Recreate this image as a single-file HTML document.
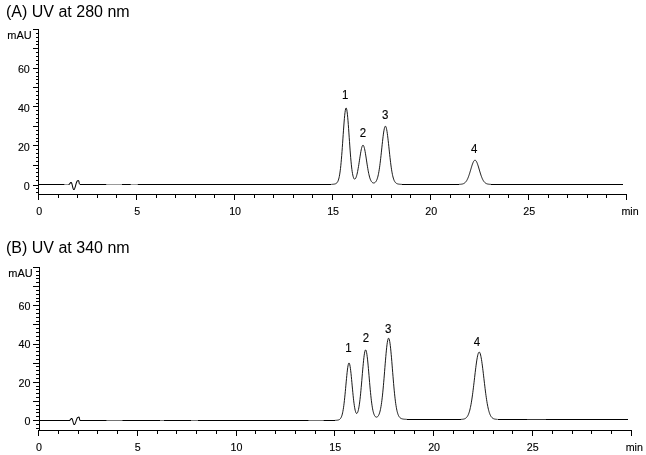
<!DOCTYPE html>
<html><head><meta charset="utf-8"><title>Chromatograms</title>
<style>
html,body{margin:0;padding:0;background:#fff;}
svg{display:block}
text{font-family:"Liberation Sans",Arial,sans-serif;fill:#000}
.ax{font-size:10.7px}
.mau{font-size:11px}
.ax,.mau,.pk{stroke:#000;stroke-width:0.12px}
.ti{font-size:16px}
.pk{font-size:11.5px}
.tr{fill:none;stroke:#000;stroke-width:0.9;stroke-linejoin:round}
.w{stroke-width:1.02}
</style></head><body>
<svg width="646" height="455" viewBox="0 0 646 455">
<rect width="646" height="455" fill="#fff"/>
<g shape-rendering="crispEdges" fill="#000">
<rect x="38" y="29" width="1" height="166"/>
<rect x="38" y="194" width="589" height="1"/>
<rect x="36" y="192" width="2" height="1"/>
<rect x="36" y="188" width="2" height="1"/>
<rect x="33" y="185" width="5" height="1"/>
<rect x="36" y="180" width="2" height="1"/>
<rect x="36" y="176" width="2" height="1"/>
<rect x="36" y="172" width="2" height="1"/>
<rect x="36" y="168" width="2" height="1"/>
<rect x="33" y="165" width="5" height="1"/>
<rect x="36" y="161" width="2" height="1"/>
<rect x="36" y="157" width="2" height="1"/>
<rect x="36" y="153" width="2" height="1"/>
<rect x="36" y="149" width="2" height="1"/>
<rect x="33" y="145" width="5" height="1"/>
<rect x="36" y="141" width="2" height="1"/>
<rect x="36" y="138" width="2" height="1"/>
<rect x="36" y="134" width="2" height="1"/>
<rect x="36" y="130" width="2" height="1"/>
<rect x="33" y="126" width="5" height="1"/>
<rect x="36" y="122" width="2" height="1"/>
<rect x="36" y="118" width="2" height="1"/>
<rect x="36" y="114" width="2" height="1"/>
<rect x="36" y="110" width="2" height="1"/>
<rect x="33" y="106" width="5" height="1"/>
<rect x="36" y="103" width="2" height="1"/>
<rect x="36" y="99" width="2" height="1"/>
<rect x="36" y="95" width="2" height="1"/>
<rect x="36" y="91" width="2" height="1"/>
<rect x="33" y="87" width="5" height="1"/>
<rect x="36" y="83" width="2" height="1"/>
<rect x="36" y="79" width="2" height="1"/>
<rect x="36" y="76" width="2" height="1"/>
<rect x="36" y="72" width="2" height="1"/>
<rect x="33" y="68" width="5" height="1"/>
<rect x="36" y="64" width="2" height="1"/>
<rect x="36" y="60" width="2" height="1"/>
<rect x="36" y="56" width="2" height="1"/>
<rect x="36" y="52" width="2" height="1"/>
<rect x="33" y="48" width="5" height="1"/>
<rect x="36" y="44" width="2" height="1"/>
<rect x="36" y="41" width="2" height="1"/>
<rect x="36" y="37" width="2" height="1"/>
<rect x="36" y="33" width="2" height="1"/>
<rect x="33" y="29" width="5" height="1"/>
<rect x="38" y="195" width="1" height="5"/>
<rect x="58" y="195" width="1" height="3"/>
<rect x="77" y="195" width="1" height="3"/>
<rect x="97" y="195" width="1" height="3"/>
<rect x="116" y="195" width="1" height="3"/>
<rect x="136" y="195" width="1" height="5"/>
<rect x="156" y="195" width="1" height="3"/>
<rect x="175" y="195" width="1" height="3"/>
<rect x="195" y="195" width="1" height="3"/>
<rect x="214" y="195" width="1" height="3"/>
<rect x="234" y="195" width="1" height="5"/>
<rect x="254" y="195" width="1" height="3"/>
<rect x="273" y="195" width="1" height="3"/>
<rect x="293" y="195" width="1" height="3"/>
<rect x="312" y="195" width="1" height="3"/>
<rect x="332" y="195" width="1" height="5"/>
<rect x="352" y="195" width="1" height="3"/>
<rect x="371" y="195" width="1" height="3"/>
<rect x="391" y="195" width="1" height="3"/>
<rect x="410" y="195" width="1" height="3"/>
<rect x="430" y="195" width="1" height="5"/>
<rect x="450" y="195" width="1" height="3"/>
<rect x="469" y="195" width="1" height="3"/>
<rect x="489" y="195" width="1" height="3"/>
<rect x="508" y="195" width="1" height="3"/>
<rect x="528" y="195" width="1" height="5"/>
<rect x="548" y="195" width="1" height="3"/>
<rect x="567" y="195" width="1" height="3"/>
<rect x="587" y="195" width="1" height="3"/>
<rect x="606" y="195" width="1" height="3"/>
<rect x="626" y="195" width="1" height="5"/>
<rect x="38.4" y="184" width="30.6" height="1"/>
<rect x="79.5" y="184" width="251.7" height="1"/>
<rect x="402.0" y="184" width="57.0" height="1"/>
<rect x="491.1" y="184" width="131.7" height="1"/>
</g>
<polyline class="tr w" points="69.0,184.46 69.3,184.26 69.6,183.93 69.9,183.52 70.2,183.10 70.5,182.73 70.8,182.49 71.1,182.40 71.4,182.62 71.7,183.24 72.0,184.20 72.3,185.37 72.6,186.63 72.9,187.80 73.2,188.76 73.5,189.38 73.8,189.60 74.1,189.47 74.4,189.07 74.7,188.44 75.0,187.61 75.3,186.63 75.6,185.56 75.9,184.48 76.2,183.43 76.5,182.50 76.8,181.73 77.1,181.17 77.4,180.86 77.7,180.80 78.0,180.73 78.3,180.64 78.6,180.60 78.9,181.40 79.2,183.15 79.5,184.40"/>
<polyline class="tr" points="331.2,184.39 331.5,184.38 331.8,184.36 332.1,184.34 332.4,184.32 332.7,184.30 333.0,184.27 333.3,184.24 333.6,184.21 333.9,184.17 334.2,184.12 334.5,184.06 334.8,183.99 335.1,183.91 335.4,183.81 335.7,183.69 336.0,183.54 336.3,183.35 336.6,183.12 336.9,182.83 337.2,182.48 337.5,182.03 337.8,181.49 338.1,180.83 338.4,180.02 338.7,179.05 339.0,177.89 339.3,176.51 339.6,174.89 339.9,173.02 340.2,170.86 340.5,168.40 340.8,165.64 341.1,162.58 341.4,159.21 341.7,155.56 342.0,151.66 342.3,147.55 342.6,143.27 342.9,138.90 343.2,134.51 343.5,130.18 343.8,126.00 344.1,122.05 344.4,118.45 344.7,115.26 345.0,112.57 345.3,110.46 345.6,108.98 345.9,108.16 346.2,108.04 346.5,108.61 346.8,109.86 347.1,111.76 347.4,114.25 347.7,117.26 348.0,120.73 348.3,124.55 348.6,128.65 348.9,132.92 349.2,137.28 349.5,141.64 349.8,145.93 350.1,150.08 350.4,154.02 350.7,157.71 351.0,161.13 351.3,164.24 351.6,167.03 351.9,169.50 352.2,171.65 352.5,173.50 352.8,175.05 353.1,176.32 353.4,177.33 353.7,178.11 354.0,178.66 354.3,178.99 354.6,179.14 354.9,179.10 355.2,178.89 355.5,178.51 355.8,177.97 356.1,177.28 356.4,176.42 356.7,175.42 357.0,174.27 357.3,172.98 357.6,171.55 357.9,169.99 358.2,168.32 358.5,166.54 358.8,164.68 359.1,162.76 359.4,160.80 359.7,158.83 360.0,156.87 360.3,154.97 360.6,153.15 360.9,151.45 361.2,149.90 361.5,148.52 361.8,147.36 362.1,146.43 362.4,145.75 362.7,145.34 363.0,145.20 363.3,145.34 363.6,145.77 363.9,146.46 364.2,147.40 364.5,148.57 364.8,149.96 365.1,151.52 365.4,153.24 365.7,155.07 366.0,156.99 366.3,158.96 366.6,160.95 366.9,162.94 367.2,164.89 367.5,166.78 367.8,168.59 368.1,170.30 368.4,171.91 368.7,173.40 369.0,174.77 369.3,176.01 369.6,177.13 369.9,178.12 370.2,179.00 370.5,179.77 370.8,180.43 371.1,181.00 371.4,181.48 371.7,181.88 372.0,182.21 372.3,182.47 372.6,182.67 372.9,182.82 373.2,182.92 373.5,182.97 373.8,182.97 374.1,182.93 374.4,182.85 374.7,182.71 375.0,182.52 375.3,182.27 375.6,181.96 375.9,181.58 376.2,181.12 376.5,180.56 376.8,179.91 377.1,179.14 377.4,178.25 377.7,177.23 378.0,176.06 378.3,174.74 378.6,173.26 378.9,171.62 379.2,169.80 379.5,167.82 379.8,165.66 380.1,163.35 380.4,160.90 380.7,158.31 381.0,155.62 381.3,152.85 381.6,150.02 381.9,147.18 382.2,144.36 382.5,141.60 382.8,138.95 383.1,136.44 383.4,134.13 383.7,132.05 384.0,130.23 384.3,128.73 384.6,127.55 384.9,126.73 385.2,126.29 385.5,126.23 385.8,126.55 386.1,127.24 386.4,128.30 386.7,129.70 387.0,131.42 387.3,133.42 387.6,135.66 387.9,138.11 388.2,140.72 388.5,143.45 388.8,146.26 389.1,149.10 389.4,151.94 389.7,154.74 390.0,157.46 390.3,160.09 390.6,162.60 390.9,164.96 391.2,167.18 391.5,169.22 391.8,171.11 392.1,172.82 392.4,174.36 392.7,175.75 393.0,176.97 393.3,178.06 393.6,179.00 393.9,179.83 394.2,180.54 394.5,181.15 394.8,181.67 395.1,182.11 395.4,182.48 395.7,182.80 396.0,183.06 396.3,183.27 396.6,183.46 396.9,183.61 397.2,183.73 397.5,183.84 397.8,183.93 398.1,184.00 398.4,184.06 398.7,184.11 399.0,184.16 399.3,184.20 399.6,184.23 399.9,184.26 400.2,184.28 400.5,184.30 400.8,184.32 401.1,184.34 401.4,184.36 401.7,184.37 402.0,184.39"/>
<polyline class="tr" points="459.0,184.38 459.3,184.37 459.6,184.35 459.9,184.33 460.2,184.31 460.5,184.29 460.8,184.26 461.1,184.23 461.4,184.19 461.7,184.14 462.0,184.09 462.3,184.02 462.6,183.95 462.9,183.86 463.2,183.76 463.5,183.64 463.8,183.50 464.1,183.34 464.4,183.15 464.7,182.93 465.0,182.69 465.3,182.41 465.6,182.10 465.9,181.74 466.2,181.34 466.5,180.90 466.8,180.41 467.1,179.87 467.4,179.28 467.7,178.63 468.0,177.93 468.3,177.19 468.6,176.39 468.9,175.54 469.2,174.65 469.5,173.72 469.8,172.76 470.1,171.77 470.4,170.76 470.7,169.74 471.0,168.72 471.3,167.71 471.6,166.71 471.9,165.75 472.2,164.84 472.5,163.97 472.8,163.18 473.1,162.46 473.4,161.82 473.7,161.28 474.0,160.84 474.3,160.51 474.6,160.30 474.9,160.20 475.2,160.22 475.5,160.36 475.8,160.61 476.1,160.98 476.4,161.45 476.7,162.02 477.0,162.69 477.3,163.43 477.6,164.26 477.9,165.14 478.2,166.07 478.5,167.04 478.8,168.04 479.1,169.06 479.4,170.08 479.7,171.10 480.0,172.10 480.3,173.08 480.6,174.04 480.9,174.95 481.2,175.83 481.5,176.66 481.8,177.44 482.1,178.17 482.4,178.85 482.7,179.48 483.0,180.05 483.3,180.58 483.6,181.05 483.9,181.48 484.2,181.86 484.5,182.21 484.8,182.51 485.1,182.77 485.4,183.01 485.7,183.21 486.0,183.39 486.3,183.55 486.6,183.68 486.9,183.79 487.2,183.89 487.5,183.97 487.8,184.05 488.1,184.11 488.4,184.16 488.7,184.20 489.0,184.24 489.3,184.27 489.6,184.30 489.9,184.32 490.2,184.34 490.5,184.36 490.8,184.37 491.1,184.38"/>
<rect x="64.3" y="183.5" width="4.299999999999997" height="2" fill="#fff" opacity="0.6"/>
<rect x="106.2" y="183.5" width="15.799999999999997" height="2" fill="#fff" opacity="0.6"/>
<rect x="130.7" y="183.5" width="7.100000000000023" height="2" fill="#fff" opacity="0.6"/>
<text class="ax" transform="translate(29.8 190.3) scale(1 1.05)" text-anchor="end">0</text>
<text class="ax" transform="translate(29.8 150.6) scale(1 1.05)" text-anchor="end">20</text>
<text class="ax" transform="translate(29.8 111.8) scale(1 1.05)" text-anchor="end">40</text>
<text class="ax" transform="translate(29.8 73.0) scale(1 1.05)" text-anchor="end">60</text>
<text class="mau" transform="translate(31.7 39.0) scale(1 0.97)" text-anchor="end">mAU</text>
<text class="ax" transform="translate(39.1 214.6) scale(1 1.05)" text-anchor="middle">0</text>
<text class="ax" transform="translate(137.1 214.6) scale(1 1.05)" text-anchor="middle">5</text>
<text class="ax" transform="translate(235.1 214.6) scale(1 1.05)" text-anchor="middle">10</text>
<text class="ax" transform="translate(333.1 214.6) scale(1 1.05)" text-anchor="middle">15</text>
<text class="ax" transform="translate(431.2 214.6) scale(1 1.05)" text-anchor="middle">20</text>
<text class="ax" transform="translate(529.2 214.6) scale(1 1.05)" text-anchor="middle">25</text>
<text class="ax" transform="translate(630.0 214.6) scale(1 1.0)" text-anchor="middle">min</text>
<text class="ti" x="6" y="16.5">(A) UV at 280 nm</text>
<text class="pk" transform="translate(345.3 98.7) scale(1 1.07)" text-anchor="middle">1</text>
<text class="pk" transform="translate(363.0 137.0) scale(1 1.07)" text-anchor="middle">2</text>
<text class="pk" transform="translate(385.2 118.5) scale(1 1.07)" text-anchor="middle">3</text>
<text class="pk" transform="translate(474.2 153.3) scale(1 1.07)" text-anchor="middle">4</text>
<g shape-rendering="crispEdges" fill="#000">
<rect x="39" y="267" width="1" height="164"/>
<rect x="38" y="430" width="594" height="1"/>
<rect x="36" y="428" width="3" height="1"/>
<rect x="36" y="424" width="3" height="1"/>
<rect x="33" y="420" width="6" height="1"/>
<rect x="36" y="416" width="3" height="1"/>
<rect x="36" y="412" width="3" height="1"/>
<rect x="36" y="409" width="3" height="1"/>
<rect x="36" y="405" width="3" height="1"/>
<rect x="33" y="401" width="6" height="1"/>
<rect x="36" y="397" width="3" height="1"/>
<rect x="36" y="393" width="3" height="1"/>
<rect x="36" y="389" width="3" height="1"/>
<rect x="36" y="386" width="3" height="1"/>
<rect x="33" y="382" width="6" height="1"/>
<rect x="36" y="378" width="3" height="1"/>
<rect x="36" y="374" width="3" height="1"/>
<rect x="36" y="370" width="3" height="1"/>
<rect x="36" y="366" width="3" height="1"/>
<rect x="33" y="363" width="6" height="1"/>
<rect x="36" y="359" width="3" height="1"/>
<rect x="36" y="355" width="3" height="1"/>
<rect x="36" y="351" width="3" height="1"/>
<rect x="36" y="347" width="3" height="1"/>
<rect x="33" y="344" width="6" height="1"/>
<rect x="36" y="340" width="3" height="1"/>
<rect x="36" y="336" width="3" height="1"/>
<rect x="36" y="332" width="3" height="1"/>
<rect x="36" y="328" width="3" height="1"/>
<rect x="33" y="324" width="6" height="1"/>
<rect x="36" y="321" width="3" height="1"/>
<rect x="36" y="317" width="3" height="1"/>
<rect x="36" y="313" width="3" height="1"/>
<rect x="36" y="309" width="3" height="1"/>
<rect x="33" y="305" width="6" height="1"/>
<rect x="36" y="301" width="3" height="1"/>
<rect x="36" y="298" width="3" height="1"/>
<rect x="36" y="294" width="3" height="1"/>
<rect x="36" y="290" width="3" height="1"/>
<rect x="33" y="286" width="6" height="1"/>
<rect x="36" y="282" width="3" height="1"/>
<rect x="36" y="278" width="3" height="1"/>
<rect x="36" y="275" width="3" height="1"/>
<rect x="36" y="271" width="3" height="1"/>
<rect x="33" y="267" width="6" height="1"/>
<rect x="38" y="431" width="1" height="5"/>
<rect x="58" y="431" width="1" height="3"/>
<rect x="78" y="431" width="1" height="3"/>
<rect x="97" y="431" width="1" height="3"/>
<rect x="117" y="431" width="1" height="3"/>
<rect x="137" y="431" width="1" height="5"/>
<rect x="157" y="431" width="1" height="3"/>
<rect x="176" y="431" width="1" height="3"/>
<rect x="196" y="431" width="1" height="3"/>
<rect x="216" y="431" width="1" height="3"/>
<rect x="236" y="431" width="1" height="5"/>
<rect x="255" y="431" width="1" height="3"/>
<rect x="275" y="431" width="1" height="3"/>
<rect x="295" y="431" width="1" height="3"/>
<rect x="315" y="431" width="1" height="3"/>
<rect x="334" y="431" width="1" height="5"/>
<rect x="354" y="431" width="1" height="3"/>
<rect x="374" y="431" width="1" height="3"/>
<rect x="394" y="431" width="1" height="3"/>
<rect x="414" y="431" width="1" height="3"/>
<rect x="433" y="431" width="1" height="5"/>
<rect x="453" y="431" width="1" height="3"/>
<rect x="473" y="431" width="1" height="3"/>
<rect x="493" y="431" width="1" height="3"/>
<rect x="512" y="431" width="1" height="3"/>
<rect x="532" y="431" width="1" height="5"/>
<rect x="552" y="431" width="1" height="3"/>
<rect x="572" y="431" width="1" height="3"/>
<rect x="591" y="431" width="1" height="3"/>
<rect x="611" y="431" width="1" height="3"/>
<rect x="631" y="431" width="1" height="5"/>
<rect x="38.7" y="420" width="30.9" height="1"/>
<rect x="80.1" y="420" width="254.7" height="1"/>
<rect x="407.1" y="419" width="53.7" height="1"/>
<rect x="497.7" y="419" width="129.9" height="1"/>
</g>
<polyline class="tr w" points="69.6,420.46 69.9,420.26 70.2,419.93 70.5,419.52 70.8,419.10 71.1,418.73 71.4,418.49 71.7,418.40 72.0,418.62 72.3,419.24 72.6,420.18 72.9,421.31 73.2,422.46 73.5,423.48 73.8,424.22 74.1,424.58 74.4,424.55 74.7,424.30 75.0,423.84 75.3,423.21 75.6,422.45 75.9,421.59 76.2,420.70 76.5,419.83 76.8,419.03 77.1,418.35 77.4,417.83 77.7,417.51 78.0,417.40 78.3,417.34 78.6,417.20 78.9,417.11 79.2,417.42 79.5,418.80 79.8,420.18 80.1,420.50"/>
<polyline class="tr" points="334.8,420.39 335.1,420.38 335.4,420.36 335.7,420.34 336.0,420.32 336.3,420.30 336.6,420.27 336.9,420.24 337.2,420.20 337.5,420.15 337.8,420.10 338.1,420.03 338.4,419.95 338.7,419.86 339.0,419.73 339.3,419.58 339.6,419.40 339.9,419.16 340.2,418.88 340.5,418.52 340.8,418.08 341.1,417.55 341.4,416.91 341.7,416.13 342.0,415.21 342.3,414.11 342.6,412.84 342.9,411.36 343.2,409.66 343.5,407.74 343.8,405.59 344.1,403.21 344.4,400.61 344.7,397.81 345.0,394.82 345.3,391.68 345.6,388.44 345.9,385.15 346.2,381.86 346.5,378.63 346.8,375.54 347.1,372.65 347.4,370.04 347.7,367.76 348.0,365.88 348.3,364.44 348.6,363.48 348.9,363.03 349.2,363.11 349.5,363.70 349.8,364.80 350.1,366.36 350.4,368.36 350.7,370.73 351.0,373.41 351.3,376.34 351.6,379.45 351.9,382.66 352.2,385.92 352.5,389.15 352.8,392.30 353.1,395.32 353.4,398.18 353.7,400.82 354.0,403.24 354.3,405.41 354.6,407.32 354.9,408.96 355.2,410.35 355.5,411.47 355.8,412.34 356.1,412.96 356.4,413.33 356.7,413.47 357.0,413.37 357.3,413.05 357.6,412.49 357.9,411.70 358.2,410.67 358.5,409.41 358.8,407.91 359.1,406.16 359.4,404.17 359.7,401.93 360.0,399.46 360.3,396.76 360.6,393.84 360.9,390.73 361.2,387.45 361.5,384.04 361.8,380.53 362.1,376.98 362.4,373.42 362.7,369.91 363.0,366.52 363.3,363.30 363.6,360.31 363.9,357.60 364.2,355.23 364.5,353.26 364.8,351.71 365.1,350.62 365.4,350.02 365.7,349.92 366.0,350.32 366.3,351.21 366.6,352.57 366.9,354.37 367.2,356.58 367.5,359.14 367.8,362.01 368.1,365.13 368.4,368.45 368.7,371.89 369.0,375.42 369.3,378.96 369.6,382.47 369.9,385.91 370.2,389.22 370.5,392.39 370.8,395.38 371.1,398.17 371.4,400.75 371.7,403.11 372.0,405.25 372.3,407.16 372.6,408.86 372.9,410.36 373.2,411.66 373.5,412.79 373.8,413.75 374.1,414.56 374.4,415.23 374.7,415.79 375.0,416.23 375.3,416.58 375.6,416.83 375.9,417.01 376.2,417.11 376.5,417.14 376.8,417.10 377.1,417.00 377.4,416.83 377.7,416.58 378.0,416.25 378.3,415.84 378.6,415.34 378.9,414.73 379.2,414.00 379.5,413.15 379.8,412.16 380.1,411.02 380.4,409.71 380.7,408.22 381.0,406.55 381.3,404.68 381.6,402.60 381.9,400.30 382.2,397.80 382.5,395.08 382.8,392.16 383.1,389.05 383.4,385.75 383.7,382.30 384.0,378.72 384.3,375.05 384.6,371.31 384.9,367.55 385.2,363.82 385.5,360.16 385.8,356.63 386.1,353.27 386.4,350.14 386.7,347.28 387.0,344.75 387.3,342.59 387.6,340.82 387.9,339.49 388.2,338.62 388.5,338.22 388.8,338.30 389.1,338.86 389.4,339.89 389.7,341.37 390.0,343.27 390.3,345.57 390.6,348.21 390.9,351.17 391.2,354.38 391.5,357.81 391.8,361.39 392.1,365.09 392.4,368.84 392.7,372.60 393.0,376.32 393.3,379.98 393.6,383.52 393.9,386.93 394.2,390.18 394.5,393.24 394.8,396.10 395.1,398.76 395.4,401.21 395.7,403.44 396.0,405.47 396.3,407.29 396.6,408.92 396.9,410.37 397.2,411.64 397.5,412.76 397.8,413.73 398.1,414.58 398.4,415.30 398.7,415.92 399.0,416.45 399.3,416.91 399.6,417.29 399.9,417.61 400.2,417.88 400.5,418.11 400.8,418.30 401.1,418.46 401.4,418.59 401.7,418.71 402.0,418.80 402.3,418.88 402.6,418.95 402.9,419.01 403.2,419.07 403.5,419.11 403.8,419.15 404.1,419.19 404.4,419.22 404.7,419.24 405.0,419.27 405.3,419.29 405.6,419.31 405.9,419.33 406.2,419.35 406.5,419.36 406.8,419.37 407.1,419.39"/>
<polyline class="tr" points="460.8,419.39 461.1,419.37 461.4,419.36 461.7,419.34 462.0,419.31 462.3,419.28 462.6,419.25 462.9,419.21 463.2,419.16 463.5,419.11 463.8,419.04 464.1,418.96 464.4,418.86 464.7,418.75 465.0,418.62 465.3,418.46 465.6,418.28 465.9,418.06 466.2,417.81 466.5,417.52 466.8,417.19 467.1,416.81 467.4,416.37 467.7,415.86 468.0,415.29 468.3,414.65 468.6,413.92 468.9,413.11 469.2,412.20 469.5,411.20 469.8,410.09 470.1,408.86 470.4,407.53 470.7,406.07 471.0,404.50 471.3,402.80 471.6,400.98 471.9,399.05 472.2,397.00 472.5,394.84 472.8,392.58 473.1,390.23 473.4,387.80 473.7,385.30 474.0,382.75 474.3,380.17 474.6,377.58 474.9,375.00 475.2,372.44 475.5,369.94 475.8,367.51 476.1,365.19 476.4,362.99 476.7,360.93 477.0,359.05 477.3,357.35 477.6,355.87 477.9,354.61 478.2,353.60 478.5,352.84 478.8,352.34 479.1,352.12 479.4,352.16 479.7,352.48 480.0,353.07 480.3,353.91 480.6,355.01 480.9,356.34 481.2,357.90 481.5,359.65 481.8,361.60 482.1,363.70 482.4,365.95 482.7,368.31 483.0,370.77 483.3,373.29 483.6,375.86 483.9,378.45 484.2,381.04 484.5,383.61 484.8,386.14 485.1,388.62 485.4,391.02 485.7,393.34 486.0,395.57 486.3,397.69 486.6,399.71 486.9,401.60 487.2,403.38 487.5,405.03 487.8,406.57 488.1,407.98 488.4,409.28 488.7,410.47 489.0,411.54 489.3,412.52 489.6,413.39 489.9,414.18 490.2,414.87 490.5,415.49 490.8,416.04 491.1,416.52 491.4,416.94 491.7,417.31 492.0,417.63 492.3,417.90 492.6,418.14 492.9,418.34 493.2,418.51 493.5,418.66 493.8,418.79 494.1,418.90 494.4,418.99 494.7,419.06 495.0,419.13 495.3,419.18 495.6,419.22 495.9,419.26 496.2,419.29 496.5,419.32 496.8,419.34 497.1,419.36 497.4,419.38 497.7,419.39"/>
<rect x="106.4" y="419.5" width="16.099999999999994" height="2" fill="#fff" opacity="0.45"/>
<rect x="160" y="419.5" width="4" height="2" fill="#fff" opacity="0.45"/>
<rect x="191" y="419.5" width="7" height="2" fill="#fff" opacity="0.45"/>
<rect x="308.4" y="419.5" width="15.300000000000011" height="2" fill="#fff" opacity="0.45"/>
<rect x="527" y="419.5" width="19" height="2" fill="#fff" opacity="0.45"/>
<text class="ax" transform="translate(30.5 424.8) scale(1 1.05)" text-anchor="end">0</text>
<text class="ax" transform="translate(30.5 386.6) scale(1 1.05)" text-anchor="end">20</text>
<text class="ax" transform="translate(30.5 348.3) scale(1 1.05)" text-anchor="end">40</text>
<text class="ax" transform="translate(30.5 310.1) scale(1 1.05)" text-anchor="end">60</text>
<text class="mau" transform="translate(32.8 276.8) scale(1 0.97)" text-anchor="end">mAU</text>
<text class="ax" transform="translate(39.0 450.6) scale(1 1.05)" text-anchor="middle">0</text>
<text class="ax" transform="translate(137.8 450.6) scale(1 1.05)" text-anchor="middle">5</text>
<text class="ax" transform="translate(236.5 450.6) scale(1 1.05)" text-anchor="middle">10</text>
<text class="ax" transform="translate(335.3 450.6) scale(1 1.05)" text-anchor="middle">15</text>
<text class="ax" transform="translate(434.1 450.6) scale(1 1.05)" text-anchor="middle">20</text>
<text class="ax" transform="translate(532.8 450.6) scale(1 1.05)" text-anchor="middle">25</text>
<text class="ax" transform="translate(634.3 450.6) scale(1 1.0)" text-anchor="middle">min</text>
<text class="ti" x="6" y="253.1">(B) UV at 340 nm</text>
<text class="pk" transform="translate(348.5 352.2) scale(1 1.07)" text-anchor="middle">1</text>
<text class="pk" transform="translate(365.9 342.2) scale(1 1.07)" text-anchor="middle">2</text>
<text class="pk" transform="translate(388.1 333.2) scale(1 1.07)" text-anchor="middle">3</text>
<text class="pk" transform="translate(477.0 346.1) scale(1 1.07)" text-anchor="middle">4</text>
</svg>
</body></html>
